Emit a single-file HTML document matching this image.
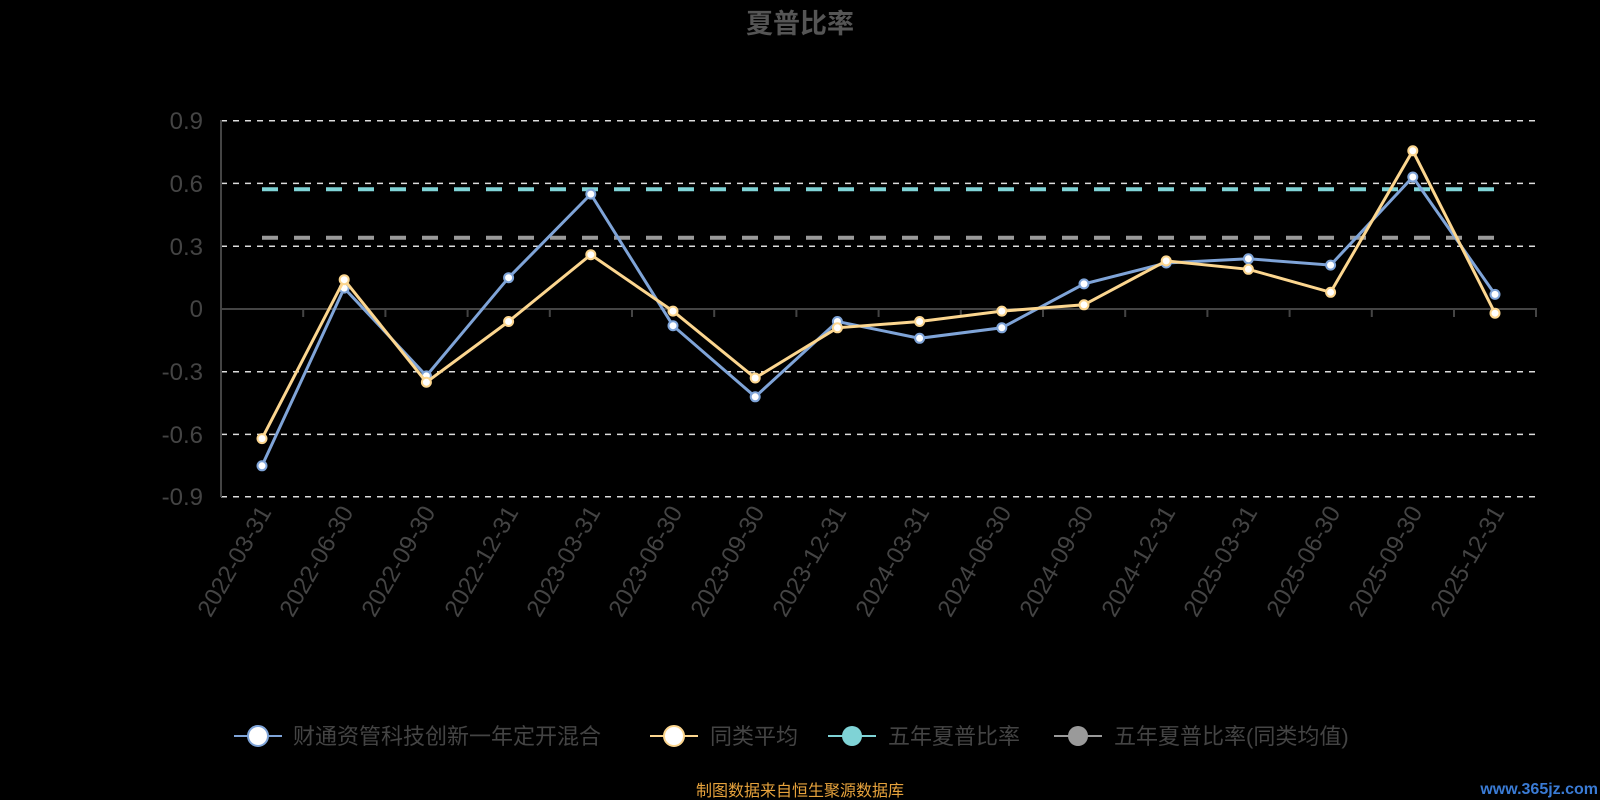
<!DOCTYPE html>
<html><head><meta charset="utf-8"><style>
html,body{margin:0;padding:0;background:#000;}
svg{display:block;font-family:"Liberation Sans","Noto Sans CJK SC",sans-serif;}
</style></head><body>
<svg width="1600" height="800" viewBox="0 0 1600 800" xmlns="http://www.w3.org/2000/svg">
<rect width="1600" height="800" fill="#000"/>
<text x="800" y="33" text-anchor="middle" font-size="27" font-weight="bold" fill="#555">夏普比率</text>
<g stroke="#ddd" stroke-width="1.5" stroke-dasharray="6,6">
<line x1="221" y1="120.7" x2="1536" y2="120.7"/>
<line x1="221" y1="183.4" x2="1536" y2="183.4"/>
<line x1="221" y1="246.3" x2="1536" y2="246.3"/>
<line x1="221" y1="371.7" x2="1536" y2="371.7"/>
<line x1="221" y1="434.4" x2="1536" y2="434.4"/>
<line x1="221" y1="496.7" x2="1536" y2="496.7"/>
</g>
<line x1="221" y1="120" x2="221" y2="497" stroke="#444" stroke-width="2"/>
<line x1="221" y1="309" x2="1537" y2="309" stroke="#444" stroke-width="2"/>
<g stroke="#444" stroke-width="2">
<line x1="303.2" y1="309" x2="303.2" y2="317"/><line x1="385.4" y1="309" x2="385.4" y2="317"/><line x1="467.6" y1="309" x2="467.6" y2="317"/><line x1="549.8" y1="309" x2="549.8" y2="317"/><line x1="632" y1="309" x2="632" y2="317"/><line x1="714.2" y1="309" x2="714.2" y2="317"/><line x1="796.4" y1="309" x2="796.4" y2="317"/><line x1="878.6" y1="309" x2="878.6" y2="317"/><line x1="960.8" y1="309" x2="960.8" y2="317"/><line x1="1043" y1="309" x2="1043" y2="317"/><line x1="1125.2" y1="309" x2="1125.2" y2="317"/><line x1="1207.4" y1="309" x2="1207.4" y2="317"/><line x1="1289.6" y1="309" x2="1289.6" y2="317"/><line x1="1371.8" y1="309" x2="1371.8" y2="317"/><line x1="1454" y1="309" x2="1454" y2="317"/><line x1="1536" y1="309" x2="1536" y2="317"/>
</g>
<g font-size="24" fill="#444" text-anchor="end">
<text x="203" y="129">0.9</text><text x="203" y="192">0.6</text><text x="203" y="255">0.3</text><text x="203" y="317">0</text><text x="203" y="380">-0.3</text><text x="203" y="443">-0.6</text><text x="203" y="505">-0.9</text>
</g>
<g font-size="24" fill="#444" text-anchor="end">
<text transform="translate(272,512) rotate(-60)">2022-03-31</text>
<text transform="translate(354,512) rotate(-60)">2022-06-30</text>
<text transform="translate(436,512) rotate(-60)">2022-09-30</text>
<text transform="translate(519,512) rotate(-60)">2022-12-31</text>
<text transform="translate(601,512) rotate(-60)">2023-03-31</text>
<text transform="translate(683,512) rotate(-60)">2023-06-30</text>
<text transform="translate(765,512) rotate(-60)">2023-09-30</text>
<text transform="translate(847,512) rotate(-60)">2023-12-31</text>
<text transform="translate(930,512) rotate(-60)">2024-03-31</text>
<text transform="translate(1012,512) rotate(-60)">2024-06-30</text>
<text transform="translate(1094,512) rotate(-60)">2024-09-30</text>
<text transform="translate(1176,512) rotate(-60)">2024-12-31</text>
<text transform="translate(1258,512) rotate(-60)">2025-03-31</text>
<text transform="translate(1341,512) rotate(-60)">2025-06-30</text>
<text transform="translate(1423,512) rotate(-60)">2025-09-30</text>
<text transform="translate(1505,512) rotate(-60)">2025-12-31</text>
</g>
<line x1="262" y1="189.3" x2="1495" y2="189.3" stroke="#7fd3d6" stroke-width="4" stroke-dasharray="16,16"/>
<line x1="262" y1="237.7" x2="1495" y2="237.7" stroke="#9a9a9a" stroke-width="4" stroke-dasharray="16,16"/>
<polyline fill="none" stroke="#7fa4d8" stroke-width="3" points="262,465.8 344.2,288.1 426.4,375.9 508.6,277.7 590.8,194.1 673,325.7 755.2,396.8 837.4,321.5 919.6,338.3 1001.8,327.8 1084,283.9 1166.2,263 1248.4,258.8 1330.6,265.1 1412.8,177 1495,294.4"/>
<g fill="#fff" stroke="#7fa4d8" stroke-width="2">
<circle cx="262" cy="465.8" r="4.5"/><circle cx="344.2" cy="288.1" r="4.5"/><circle cx="426.4" cy="375.9" r="4.5"/><circle cx="508.6" cy="277.7" r="4.5"/><circle cx="590.8" cy="194.1" r="4.5"/><circle cx="673" cy="325.7" r="4.5"/><circle cx="755.2" cy="396.8" r="4.5"/><circle cx="837.4" cy="321.5" r="4.5"/><circle cx="919.6" cy="338.3" r="4.5"/><circle cx="1001.8" cy="327.8" r="4.5"/><circle cx="1084" cy="283.9" r="4.5"/><circle cx="1166.2" cy="263" r="4.5"/><circle cx="1248.4" cy="258.8" r="4.5"/><circle cx="1330.6" cy="265.1" r="4.5"/><circle cx="1412.8" cy="177" r="4.5"/><circle cx="1495" cy="294.4" r="4.5"/>
</g>
<polyline fill="none" stroke="#fcd68f" stroke-width="3" points="262,438.6 344.2,279.7 426.4,382.2 508.6,321.5 590.8,254.7 673,311.1 755.2,378 837.4,327.8 919.6,321.5 1001.8,311.1 1084,304.8 1166.2,260.9 1248.4,269.3 1330.6,292.3 1412.8,150.8 1495,313.2"/>
<g fill="#fff" stroke="#fcd68f" stroke-width="2">
<circle cx="262" cy="438.6" r="4.5"/><circle cx="344.2" cy="279.7" r="4.5"/><circle cx="426.4" cy="382.2" r="4.5"/><circle cx="508.6" cy="321.5" r="4.5"/><circle cx="590.8" cy="254.7" r="4.5"/><circle cx="673" cy="311.1" r="4.5"/><circle cx="755.2" cy="378" r="4.5"/><circle cx="837.4" cy="327.8" r="4.5"/><circle cx="919.6" cy="321.5" r="4.5"/><circle cx="1001.8" cy="311.1" r="4.5"/><circle cx="1084" cy="304.8" r="4.5"/><circle cx="1166.2" cy="260.9" r="4.5"/><circle cx="1248.4" cy="269.3" r="4.5"/><circle cx="1330.6" cy="292.3" r="4.5"/><circle cx="1412.8" cy="150.8" r="4.5"/><circle cx="1495" cy="313.2" r="4.5"/>
</g>
<g font-size="22" fill="#444">
<line x1="234" y1="736" x2="282" y2="736" stroke="#7fa4d8" stroke-width="2"/>
<circle cx="258" cy="736" r="10" fill="#fff" stroke="#7fa4d8" stroke-width="2"/>
<text x="293" y="744">财通资管科技创新一年定开混合</text>
<line x1="650" y1="736" x2="698" y2="736" stroke="#fcd68f" stroke-width="2"/>
<circle cx="674" cy="736" r="10" fill="#fff" stroke="#fcd68f" stroke-width="2"/>
<text x="710" y="744">同类平均</text>
<line x1="828" y1="736" x2="876" y2="736" stroke="#7fd3d6" stroke-width="2"/>
<circle cx="852" cy="736" r="10" fill="#7fd3d6"/>
<text x="888" y="744">五年夏普比率</text>
<line x1="1054" y1="736" x2="1102" y2="736" stroke="#9a9a9a" stroke-width="2"/>
<circle cx="1078" cy="736" r="10" fill="#9a9a9a"/>
<text x="1114" y="744">五年夏普比率(同类均值)</text>
</g>
<text x="800" y="796" text-anchor="middle" font-size="16" fill="#e6a23c">制图数据来自恒生聚源数据库</text>
<text x="1598" y="794" text-anchor="end" font-size="16" font-weight="bold" fill="#3a7bd5">www.365jz.com</text>
</svg>
</body></html>
